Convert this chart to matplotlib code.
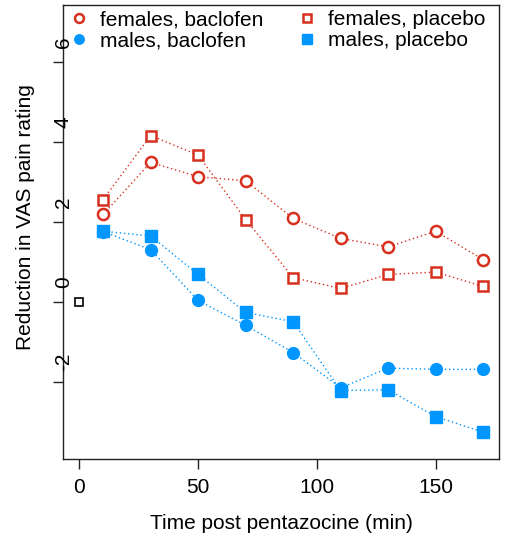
import numpy as np
import matplotlib
matplotlib.use("Agg")
import matplotlib.pyplot as plt
from matplotlib import transforms
from matplotlib.lines import Line2D

plt.rcParams['font.family'] = ['Liberation Sans', 'DejaVu Sans']

# time points (min) and mean reduction in VAS pain rating
times = [10, 30, 50, 70, 90, 110, 130, 150, 170]
fem_baclofen = [2.19, 3.49, 3.13, 3.03, 2.09, 1.59, 1.38, 1.77, 1.06]
fem_placebo = [2.56, 4.16, 3.67, 2.06, 0.61, 0.34, 0.69, 0.75, 0.39]
male_baclofen = [1.76, 1.31, 0.04, -0.58, -1.26, -2.14, -1.65, -1.68, -1.68]
male_placebo = [1.77, 1.65, 0.69, -0.26, -0.49, -2.21, -2.19, -2.86, -3.25]
baseline_t = [0]
baseline_y = [0]

xticks = [0, 50, 100, 150]
yticks = [-2, 0, 2, 4, 6]

red = '#D7301F'
blue = '#0096FF'
dots = (0, (1, 2))

fig = plt.figure(figsize=(5.05, 5.39), dpi=100)
ax = fig.add_axes([0.1253, 0.1484, 0.8634, 0.8423])

styles = {
    'females, baclofen': dict(marker='o', ms=8, mfc='white', mec=red, mew=1.8, color=red),
    'males, baclofen': dict(marker='o', ms=8.5, mfc=blue, mec=blue, color=blue),
    'females, placebo': dict(marker='s', ms=7.5, mfc='white', mec=red, mew=1.8, color=red),
    'males, placebo': dict(marker='s', ms=8.5, mfc=blue, mec=blue, color=blue),
}
series = {
    'females, baclofen': fem_baclofen,
    'males, baclofen': male_baclofen,
    'females, placebo': fem_placebo,
    'males, placebo': male_placebo,
}
for name, vals in series.items():
    ax.plot(times, vals, linestyle=dots, lw=1, **styles[name])

ax.plot(baseline_t, baseline_y, linestyle='none', marker='s', ms=6,
        mfc='white', mec='black', mew=1.2)

ax.set_xlim(-6.8, 176.8)
ax.set_ylim(-3.92, 7.42)

ax.set_xticks(xticks)
ax.set_xticklabels([str(v) for v in xticks], fontsize=15)
ax.set_yticks(yticks)
ax.set_yticklabels([])
ax.tick_params(direction='out', length=7, width=1, color='#222222', pad=7)

# y tick labels rotated, sitting on the axis line
off = transforms.offset_copy(ax.get_yaxis_transform(), fig=fig, x=0, y=20, units='dots')
for v in yticks:
    ax.text(0, v, str(v), transform=off, rotation=90, ha='center', va='center',
            fontsize=15)

for s in ax.spines.values():
    s.set_linewidth(1)
    s.set_color('#222222')

ax.set_xlabel('Time post pentazocine (min)', fontsize=15, labelpad=12)
ax.set_ylabel('Reduction in VAS pain rating', fontsize=15)
ax.yaxis.set_label_coords(-0.065, 0.533)

# marker-only legend entries
handles = [Line2D([], [], linestyle='none', **styles[name]) for name in series]
ax.legend(handles, list(series), loc='upper left', bbox_to_anchor=(0.012, 0.988),
          ncol=2, frameon=False, fontsize=15, handlelength=1.0, handletextpad=0.5,
          columnspacing=1.6, labelspacing=0.08, borderpad=0, borderaxespad=0,
          markerscale=0.8)

fig.savefig('out.png', dpi=100)
